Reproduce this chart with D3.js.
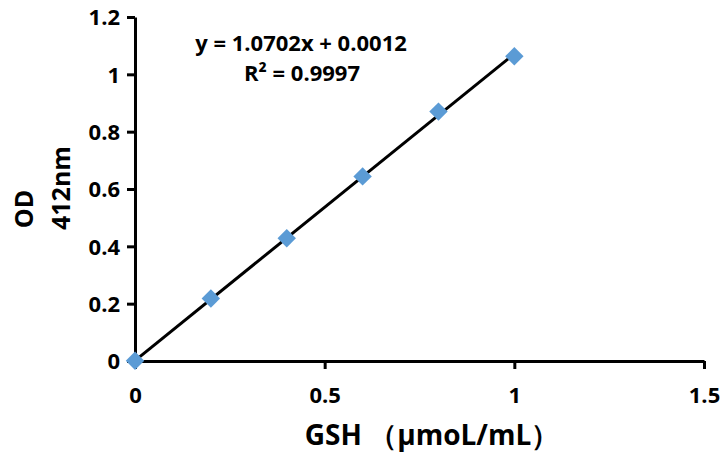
<!DOCTYPE html>
<html><head><meta charset="utf-8">
<script src="https://cdn.jsdelivr.net/npm/d3@7/dist/d3.min.js"></script>
<style>body{margin:0;background:#fff}svg{display:block}text{font-family:"Open Sans","Noto Sans",sans-serif;font-weight:bold;fill:#000}</style>
</head><body><svg id="c" width="721" height="455"></svg>
<script>
const xValues = [0, 0.2, 0.4, 0.6, 0.8, 1.0];
const odValues = [0.001, 0.218, 0.428, 0.644, 0.870, 1.063];
const xTicks = [0, 0.5, 1, 1.5];
const yTicks = [0, 0.2, 0.4, 0.6, 0.8, 1, 1.2];
const slope = 1.0702, intercept = 0.0012;
const eqLines = ["y = 1.0702x + 0.0012", "R² = 0.9997"];

const svg = d3.select("#c");
const x = d3.scaleLinear().domain([0, 1.5]).range([135, 704]);
const y = d3.scaleLinear().domain([0, 1.2]).range([361, 17]);

const xAxis = svg.append("g").attr("transform", "translate(0,361)")
  .call(d3.axisBottom(x).tickValues(xTicks).tickFormat(d3.format("")).tickSize(8).tickSizeOuter(0));
const yAxis = svg.append("g").attr("transform", "translate(135,0)")
  .call(d3.axisLeft(y).tickValues(yTicks).tickFormat(d3.format("")).tickSize(8).tickSizeOuter(0));
[xAxis, yAxis].forEach(g => {
  g.select(".domain").attr("stroke", "#000").attr("stroke-width", 3);
  g.selectAll(".tick line").attr("stroke", "#000").attr("stroke-width", 3);
  g.selectAll(".tick text").style("font-size", "22px").attr("fill", "#000")
    .style("font-family", "'Open Sans',sans-serif");
});
xAxis.selectAll(".tick text").attr("y", 42).attr("dy", 0);
yAxis.selectAll(".tick text").attr("x", -15).attr("dy", "0.36em");

// trendline
svg.append("line")
  .attr("x1", x(0)).attr("y1", y(intercept))
  .attr("x2", x(1)).attr("y2", y(slope + intercept))
  .attr("stroke", "#000").attr("stroke-width", 3);

// markers
svg.selectAll("path.pt").data(xValues.map((v, i) => [v, odValues[i]])).enter()
  .append("path").attr("class", "pt")
  .attr("d", d3.symbol().type(d3.symbolSquare).size(170))
  .attr("transform", d => `translate(${x(d[0])},${y(d[1])}) rotate(45)`)
  .attr("fill", "#5B9BD5");

// equation
svg.append("text").attr("x", 301).attr("y", 51).attr("text-anchor", "middle")
  .style("font-size", "22px").text(eqLines[0]);
svg.append("text").attr("x", 302).attr("y", 81).attr("text-anchor", "middle")
  .style("font-size", "22px").text(eqLines[1]);

// axis titles
svg.append("text").attr("x", 432).attr("y", 445).attr("text-anchor", "middle")
  .style("font-size", "28px").text("GSH （μmoL/mL）");
svg.append("text").attr("transform", "translate(33,209) rotate(-90)").attr("text-anchor", "middle")
  .style("font-size", "25px").text("OD");
svg.append("text").attr("transform", "translate(70,230) rotate(-90)").attr("text-anchor", "start")
  .style("font-size", "25px").text("412nm");
</script></body></html>
